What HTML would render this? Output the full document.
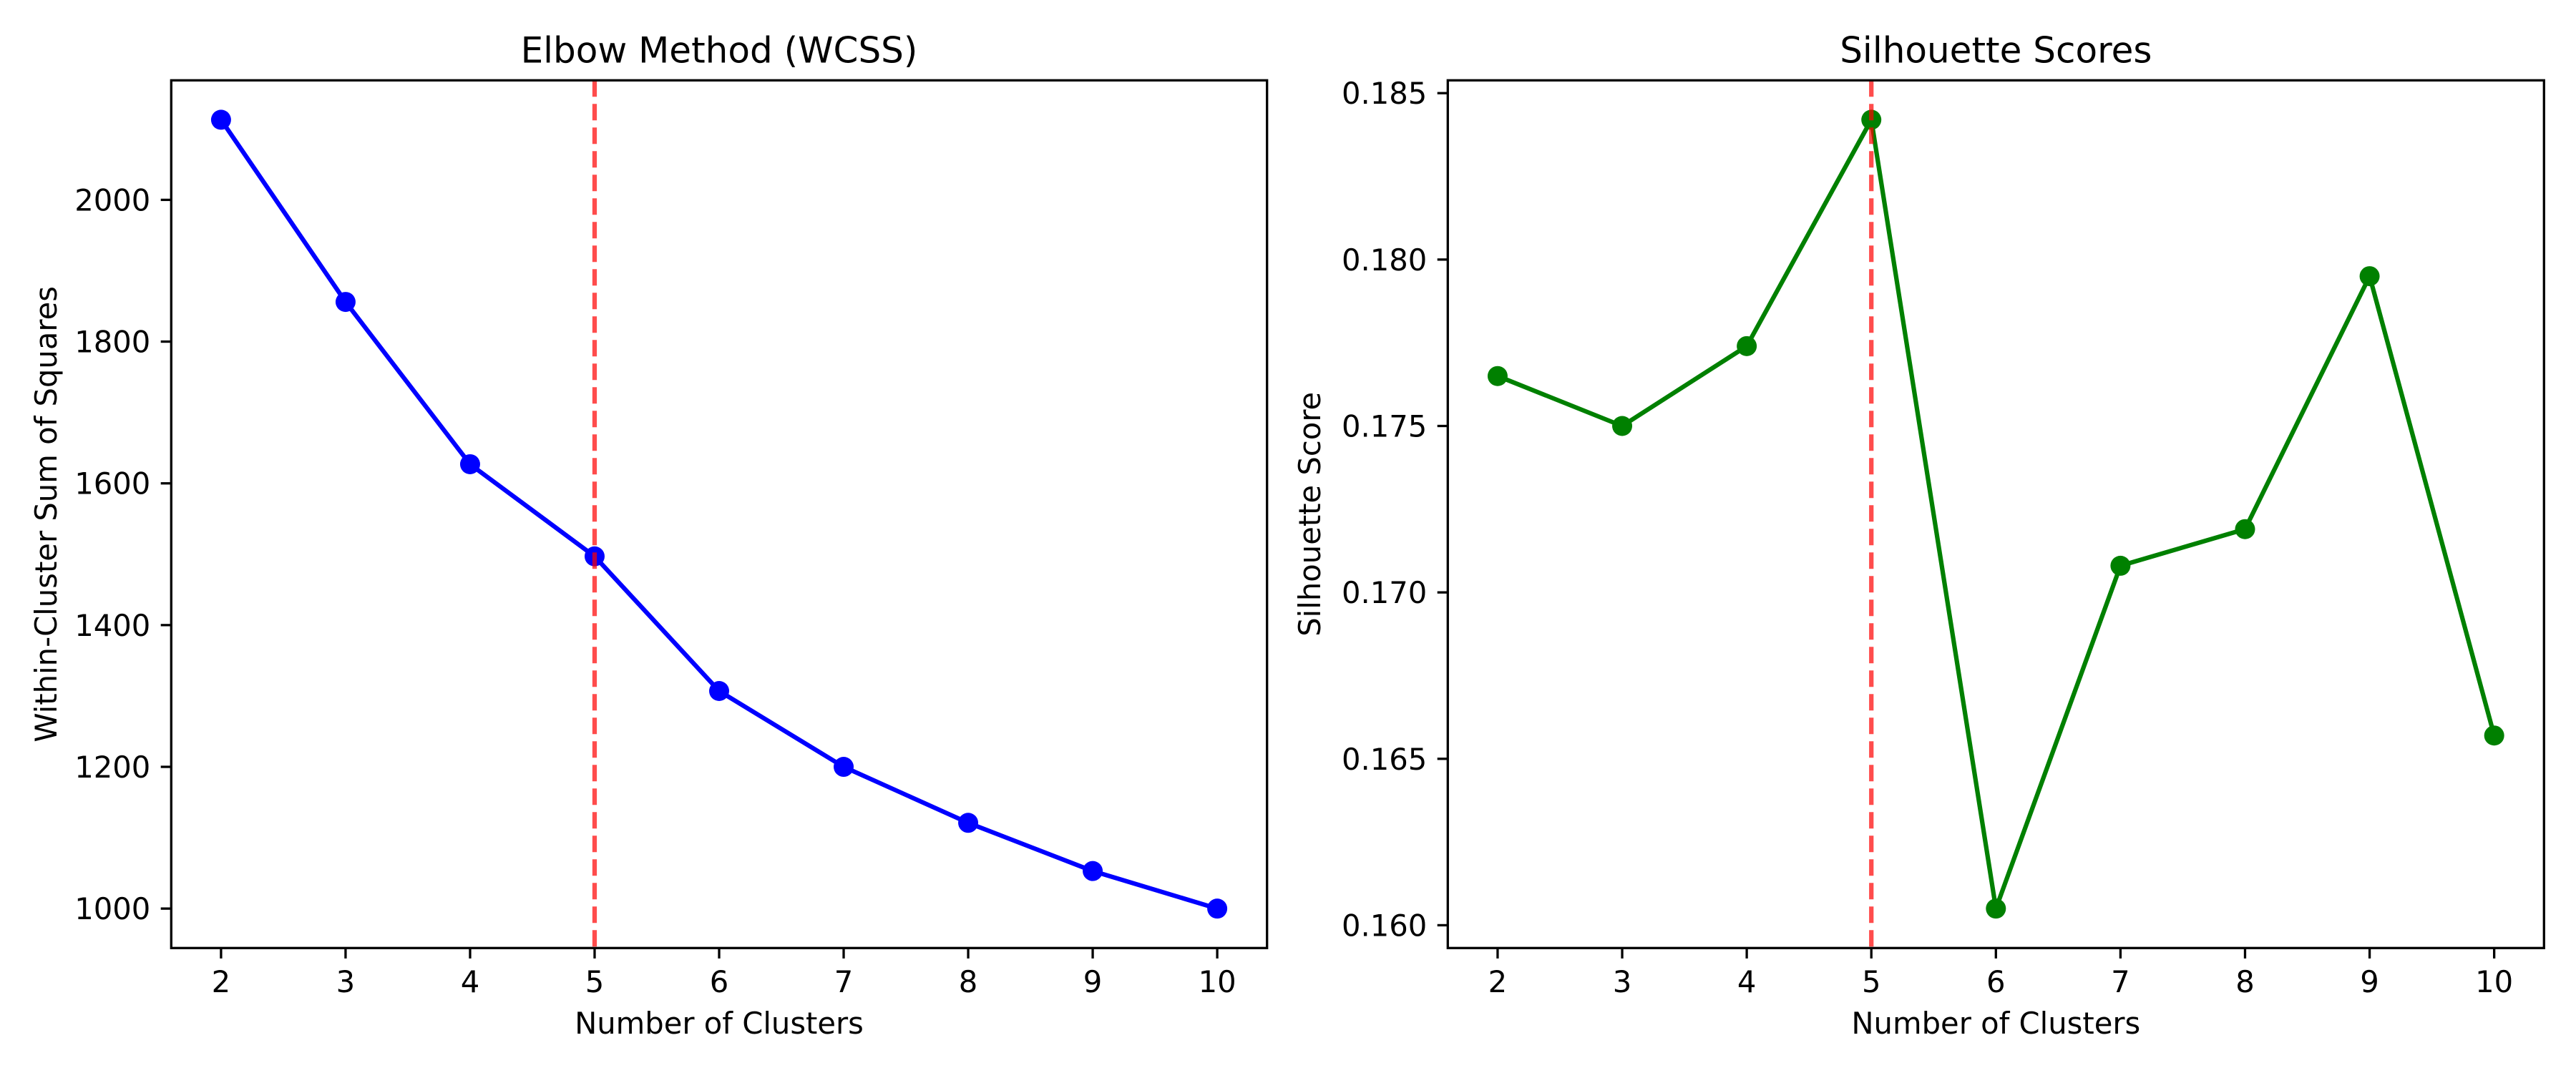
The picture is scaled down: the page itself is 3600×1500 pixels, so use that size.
<!DOCTYPE html>
<html><head><meta charset="utf-8">
<style>
html,body{margin:0;padding:0;background:#fff;}
svg{display:block;font-family:"DejaVu Sans","Liberation Sans",sans-serif;}
</style></head>
<body>
<svg id="fig" width="3600" height="1500" viewBox="0 0 3600 1500" xmlns="http://www.w3.org/2000/svg">
<rect width="3600" height="1500" fill="#fff"/>
</svg>
<script>
const clusters = [2,3,4,5,6,7,8,9,10];
const wcssValues = [2113,1856,1627,1497,1307,1200,1121,1053,1000];
const silValues = [0.1765,0.1750,0.1774,0.1842,0.1605,0.1708,0.1719,0.1795,0.1657];
const wcssTicks = [1000,1200,1400,1600,1800,2000];
const wcssTickLabels = ["1000","1200","1400","1600","1800","2000"];
const silTicks = [0.160,0.165,0.170,0.175,0.180,0.185];
const silTickLabels = ["0.160","0.165","0.170","0.175","0.180","0.185"];
const xTicks = [2,3,4,5,6,7,8,9,10];
const optimalK = [5];

const NS="http://www.w3.org/2000/svg";
const svg=document.getElementById('fig');
function mk(tag,attrs,parent){const e=document.createElementNS(NS,tag);for(const k in attrs)e.setAttribute(k,attrs[k]);(parent||svg).appendChild(e);return e;}

function panel(o){
  const g=mk('g',{});
  
  
  const L=o.x0,R=o.x1,T=o.y0,B=o.y1;
  const xmin=Math.min(...clusters),xmax=Math.max(...clusters),xr=xmax-xmin;
  const xlo=xmin-0.05*xr,xhi=xmax+0.05*xr;
  const ymin=Math.min(...o.vals),ymax=Math.max(...o.vals),yr=ymax-ymin;
  const ylo=ymin-0.05*yr,yhi=ymax+0.05*yr;
  const sx=v=>L+(v-xlo)/(xhi-xlo)*(R-L);
  const sy=v=>B-(v-ylo)/(yhi-ylo)*(B-T);
  xTicks.forEach(t=>{
    const tk=mk('line',{x1:sx(t),x2:sx(t),y1:B,y2:B+14.6,stroke:'#000','stroke-width':3.3},g);
    
    
    const tl=mk('text',{x:sx(t),y:1387,'font-size':41.7,'text-anchor':'middle',fill:'#000'},g);
    tl.textContent=String(t);
    
    
  });
  o.ticks.forEach((t,i)=>{
    if(sy(t)<T-1||sy(t)>B+1)return;
    const tk=mk('line',{x1:L-14.6,x2:L,y1:sy(t),y2:sy(t),stroke:'#000','stroke-width':3.3},g);
    
    
    const tl=mk('text',{x:L-29,y:sy(t)+15,'font-size':41.7,'text-anchor':'end',fill:'#000'},g);
    tl.textContent=o.tickLabels[i];
    
    
  });
  const pts=clusters.map((c,i)=>sx(c)+','+sy(o.vals[i])).join(' ');
  const pl=mk('polyline',{points:pts,fill:'none',stroke:o.color,'stroke-width':6.25,'stroke-linejoin':'round','stroke-linecap':'square'},g);
  
  
  clusters.forEach((c,i)=>{
    const m=mk('circle',{cx:sx(c),cy:sy(o.vals[i]),r:14,fill:o.color},g);
    
    
  });
  optimalK.forEach(k=>{
    const vl=mk('line',{x1:sx(k),x2:sx(k),y1:T,y2:B,stroke:'#ff0000','stroke-opacity':0.7,'stroke-width':6.25,'stroke-dasharray':'23,10'},g);
    
    
  });
  const fr=mk('rect',{x:L,y:T,width:R-L,height:B-T,fill:'none',stroke:'#000','stroke-width':3.3},g);
  
  
  const ti=mk('text',{x:(L+R)/2,y:T-25,'font-size':50,'text-anchor':'middle',fill:'#000'},g);
  ti.textContent=o.title;
  
  
  const xl=mk('text',{x:(L+R)/2,y:1445,'font-size':41.7,'text-anchor':'middle',fill:'#000'},g);
  xl.textContent='Number of Clusters';
  
  
  const yc=(T+B)/2;
  const yl=mk('text',{x:o.ylx,y:yc,'font-size':41.7,'text-anchor':'middle',fill:'#000',transform:`rotate(-90 ${o.ylx} ${yc})`},g);
  yl.textContent=o.ylabel;
  
  
}
panel({name:'elbow-chart',x0:239.3,x1:1770.7,y0:112.3,y1:1325.3,vals:wcssValues,ticks:wcssTicks,tickLabels:wcssTickLabels,color:'#0000ff',title:'Elbow Method (WCSS)',ylabel:'Within-Cluster Sum of Squares',ylx:79});
panel({name:'silhouette-chart',x0:2023.3,x1:3555.3,y0:112.3,y1:1325.3,vals:silValues,ticks:silTicks,tickLabels:silTickLabels,color:'#008000',title:'Silhouette Scores',ylabel:'Silhouette Score',ylx:1845});
</script>
</body></html>
